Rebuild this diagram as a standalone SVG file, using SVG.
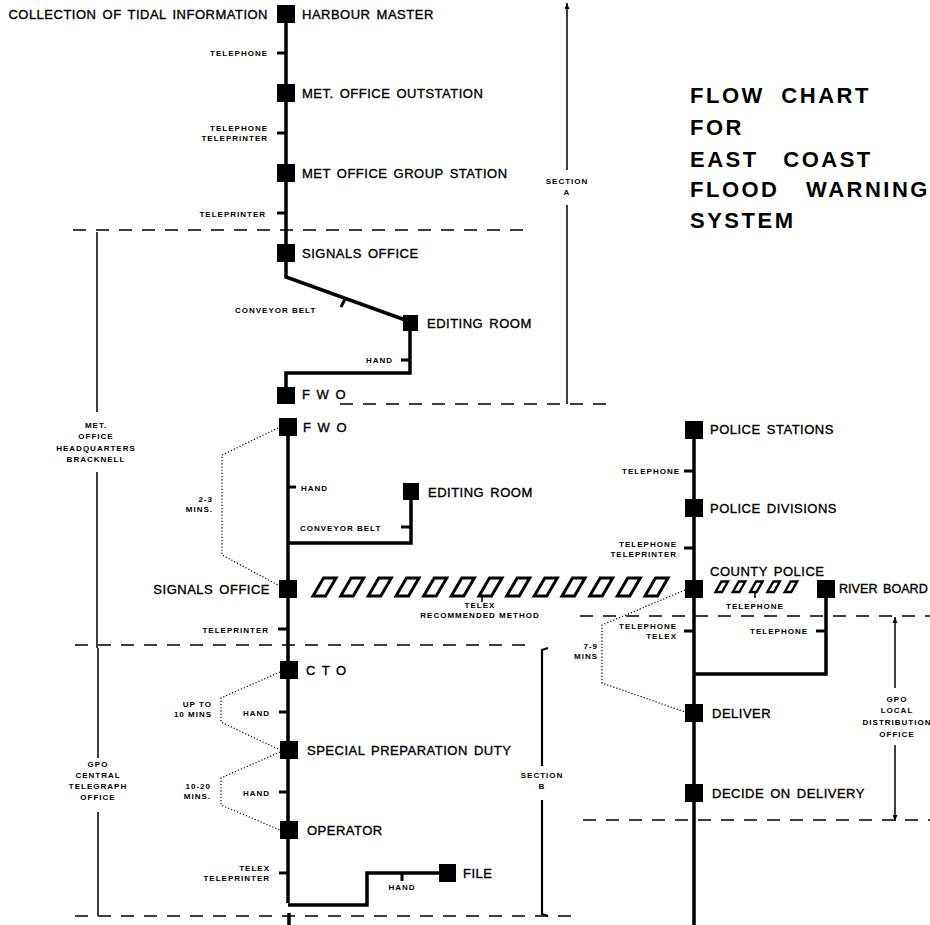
<svg xmlns="http://www.w3.org/2000/svg" width="930" height="925" viewBox="0 0 930 925">
<defs>
<style>
text{font-family:"Liberation Sans",Arial,sans-serif;fill:#000}
.n{font-size:13px;letter-spacing:0.5px;word-spacing:2px;stroke:#000;stroke-width:0.35}
.s{font-size:8px;font-weight:bold;letter-spacing:1px}
.t{font-size:22px;font-weight:bold;letter-spacing:2.5px;word-spacing:8px}
.e{text-anchor:end}
.m{text-anchor:middle}
.b{fill:#000}
.ln{fill:none;stroke:#000;stroke-width:3.5;stroke-linejoin:miter}
.tk{fill:none;stroke:#000;stroke-width:3}
.d{fill:none;stroke:#000;stroke-width:1.5;stroke-dasharray:13 10}
.dt{fill:none;stroke:#000;stroke-width:1.2;stroke-dasharray:1.2 2}
.a{fill:none;stroke:#000;stroke-width:1.5}
.hb{fill:none;stroke:#000;stroke-width:3;stroke-linejoin:miter}
</style>
<marker id="ar" viewBox="0 0 10 10" refX="10" refY="5" markerWidth="8" markerHeight="6" orient="auto" markerUnits="userSpaceOnUse">
<path d="M0,1 L10,5 L0,9 Z" fill="#000"/>
</marker>
<polygon id="hp" points="0,18 10.5,0 23,0 12.5,18"/>
<polygon id="hs" points="0.5,11 6.5,0.5 13,0.5 7,11"/>
</defs>

<g id="title">
<text class="t" x="690" y="103">FLOW CHART</text>
<text class="t" x="690" y="135">FOR</text>
<text class="t" x="690" y="167" style="word-spacing:16px">EAST COAST</text>
<text class="t" x="690" y="197" style="word-spacing:18px">FLOOD WARNING</text>
<text class="t" x="690" y="228">SYSTEM</text>
</g>

<g id="section-lines">
<path class="d" d="M73,230 H530"/>
<path class="d" d="M340,404 H615"/>
<path class="d" d="M580,616 H930"/>
<path class="d" d="M75,645 H532"/>
<path class="d" d="M75,916 H580"/>
<path class="d" d="M583,820 H930"/>
<path class="a" d="M567,170 V3" marker-end="url(#ar)"/>
<path class="a" d="M567,205 V404"/>
<text class="s m" x="567" y="184">SECTION</text>
<text class="s m" x="567" y="195">A</text>
<path class="a" d="M97,232 V412 M97,472 V648"/>
<text class="s m" x="96" y="428">MET.</text>
<text class="s m" x="96" y="439">OFFICE</text>
<text class="s m" x="96" y="451">HEADQUARTERS</text>
<text class="s m" x="96" y="462">BRACKNELL</text>
<path class="a" d="M98,648 V758 M98,812 V916"/>
<text class="s m" x="98" y="767">GPO</text>
<text class="s m" x="98" y="778">CENTRAL</text>
<text class="s m" x="98" y="789">TELEGRAPH</text>
<text class="s m" x="98" y="800">OFFICE</text>
<path class="a" style="stroke-width:2.2" d="M548,648 L542,650 V766 M542,800 V914 L548,916"/>
<text class="s m" x="542" y="778">SECTION</text>
<text class="s m" x="542" y="789">B</text>
<path class="a" d="M895,688 V617" marker-end="url(#ar)"/>
<path class="a" d="M895,745 V821" marker-end="url(#ar)"/>
<text class="s m" x="897" y="702">GPO</text>
<text class="s m" x="897" y="713">LOCAL</text>
<text class="s m" x="897" y="725">DISTRIBUTION</text>
<text class="s m" x="897" y="737">OFFICE</text>
</g>

<g id="connectors">
<path class="ln" d="M286,14 V277 L408,321"/>
<path class="tk" d="M345,299 L341,307"/>
<path class="ln" d="M410,323 V373 H286 V395"/>
<path class="tk" d="M410,360 H401"/>
<path class="tk" d="M286,53 H277 M286,133 H277 M286,213 H277"/>
<path class="ln" d="M288,427 V903"/>
<path class="tk" d="M288,487 H296 M288,629 H278 M288,712 H279 M288,792 H279 M288,873 H279"/>
<path class="ln" d="M288,543 H411 V491"/>
<path class="tk" d="M411,527 H401"/>
<path class="ln" d="M288,905 H367 V873 H447"/>
<path class="tk" d="M402,873 V881"/>
<path class="ln" d="M289,913 V925"/>
<path class="ln" d="M694,430 V925"/>
<path class="tk" d="M694,471 H684 M694,548 H684 M694,631 H684"/>
<path class="ln" d="M826,589 V674 H694"/>
<path class="tk" d="M826,631 H816"/>
<path class="dt" d="M278,428 L222,455 V555 L278,585"/>
<path class="dt" d="M280,672 L221,698 V722 L280,750"/>
<path class="dt" d="M280,752 L221,778 V805 L280,830"/>
<path class="dt" d="M685,590 L602,625 V683 L685,712"/>
<g id="telex-hatch" class="hb">
<use href="#hp" x="313" y="578"/><use href="#hp" x="340.7" y="578"/><use href="#hp" x="368.3" y="578"/><use href="#hp" x="396" y="578"/><use href="#hp" x="423.7" y="578"/><use href="#hp" x="451.3" y="578"/><use href="#hp" x="479" y="578"/><use href="#hp" x="506.7" y="578"/><use href="#hp" x="534.3" y="578"/><use href="#hp" x="562" y="578"/><use href="#hp" x="589.7" y="578"/><use href="#hp" x="617.3" y="578"/><use href="#hp" x="645" y="578"/>
</g>
<path class="a" d="M482,596 V602"/>
<g id="telephone-hatch" class="hb" style="stroke-width:2.4">
<use href="#hs" x="715" y="581"/><use href="#hs" x="732.3" y="581"/><use href="#hs" x="749.6" y="581"/><use href="#hs" x="766.9" y="581"/><use href="#hs" x="784.2" y="581"/>
</g>
<path class="a" d="M755,592 V598"/>
</g>

<g id="link-labels">
<text class="n e" x="268" y="19">COLLECTION OF TIDAL INFORMATION</text>
<text class="s e" x="268" y="56">TELEPHONE</text>
<text class="s e" x="268" y="131">TELEPHONE</text>
<text class="s e" x="268" y="141">TELEPRINTER</text>
<text class="s e" x="266" y="217">TELEPRINTER</text>
<text class="s" x="235" y="313">CONVEYOR BELT</text>
<text class="s e" x="393" y="363">HAND</text>
<text class="s e" x="213" y="502">2-3</text>
<text class="s e" x="213" y="512">MINS.</text>
<text class="s" x="301" y="491">HAND</text>
<text class="s" x="300" y="531">CONVEYOR BELT</text>
<text class="s e" x="269" y="633">TELEPRINTER</text>
<text class="s m" x="480" y="608">TELEX</text>
<text class="s m" x="480" y="618">RECOMMENDED METHOD</text>
<text class="s e" x="212" y="707">UP TO</text>
<text class="s e" x="212" y="717">10 MINS</text>
<text class="s e" x="270" y="716">HAND</text>
<text class="s e" x="211" y="789">10-20</text>
<text class="s e" x="211" y="799">MINS.</text>
<text class="s e" x="270" y="796">HAND</text>
<text class="s e" x="270" y="871">TELEX</text>
<text class="s e" x="270" y="881">TELEPRINTER</text>
<text class="s m" x="402" y="890">HAND</text>
<text class="s e" x="680" y="474">TELEPHONE</text>
<text class="s e" x="677" y="547">TELEPHONE</text>
<text class="s e" x="677" y="557">TELEPRINTER</text>
<text class="s m" x="755" y="609">TELEPHONE</text>
<text class="s e" x="677" y="629">TELEPHONE</text>
<text class="s e" x="677" y="639">TELEX</text>
<text class="s e" x="808" y="634">TELEPHONE</text>
<text class="s e" x="598" y="649">7-9</text>
<text class="s e" x="598" y="659">MINS</text>
</g>

<g id="harbour-master"><rect class="b" x="277" y="5" width="18" height="18"/><text class="n" x="302" y="19">HARBOUR MASTER</text></g>
<g id="met-office-outstation"><rect class="b" x="277" y="84" width="18" height="18"/><text class="n" x="302" y="98">MET. OFFICE OUTSTATION</text></g>
<g id="met-office-group-station"><rect class="b" x="277" y="164" width="18" height="18"/><text class="n" x="302" y="178">MET OFFICE GROUP STATION</text></g>
<g id="signals-office-1"><rect class="b" x="277" y="244" width="18" height="18"/><text class="n" x="302" y="258">SIGNALS OFFICE</text></g>
<g id="editing-room-1"><rect class="b" x="403" y="315" width="15" height="16"/><text class="n" x="427" y="328">EDITING ROOM</text></g>
<g id="fwo-1"><rect class="b" x="277" y="387" width="18" height="17"/><text class="n" x="302" y="399">F W O</text></g>
<g id="fwo-2"><rect class="b" x="279" y="418" width="18" height="18"/><text class="n" x="303" y="432">F W O</text></g>
<g id="editing-room-2"><rect class="b" x="403" y="483" width="16" height="17"/><text class="n" x="428" y="497">EDITING ROOM</text></g>
<g id="signals-office-2"><rect class="b" x="279" y="580" width="18" height="18"/><text class="n e" x="270" y="594">SIGNALS OFFICE</text></g>
<g id="cto"><rect class="b" x="280" y="661" width="18" height="18"/><text class="n" x="306" y="675">C T O</text></g>
<g id="special-preparation-duty"><rect class="b" x="280" y="741" width="18" height="18"/><text class="n" x="307" y="755">SPECIAL PREPARATION DUTY</text></g>
<g id="operator"><rect class="b" x="280" y="821" width="18" height="18"/><text class="n" x="307" y="835">OPERATOR</text></g>
<g id="file"><rect class="b" x="439" y="864" width="17" height="18"/><text class="n" x="463" y="878">FILE</text></g>
<g id="police-stations"><rect class="b" x="685" y="421" width="18" height="18"/><text class="n" x="710" y="434">POLICE STATIONS</text></g>
<g id="police-divisions"><rect class="b" x="685" y="499" width="18" height="18"/><text class="n" x="710" y="513">POLICE DIVISIONS</text></g>
<g id="county-police"><rect class="b" x="685" y="580" width="18" height="18"/><text class="n" x="710" y="576">COUNTY POLICE</text></g>
<g id="river-board"><rect class="b" x="817" y="580" width="18" height="18"/><text class="n" x="839" y="593" style="font-size:12.6px;letter-spacing:0">RIVER BOARD</text></g>
<g id="deliver"><rect class="b" x="685" y="704" width="18" height="18"/><text class="n" x="712" y="718">DELIVER</text></g>
<g id="decide-on-delivery"><rect class="b" x="685" y="784" width="18" height="18"/><text class="n" x="712" y="798">DECIDE ON DELIVERY</text></g>
</svg>
